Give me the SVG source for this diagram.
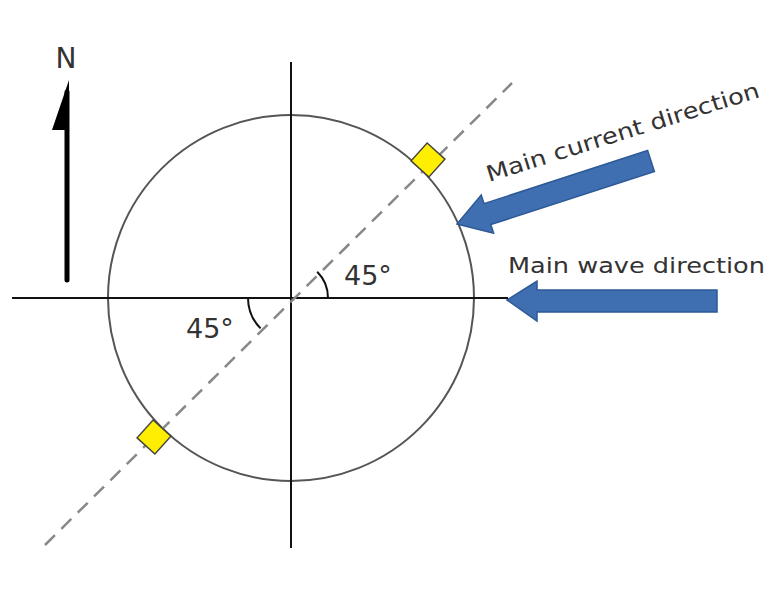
<svg xmlns="http://www.w3.org/2000/svg" width="771" height="598" viewBox="0 0 771 598">
<style>
.ax{stroke:#111;stroke-width:2;fill:none}
.lbl{font-family:"DejaVu Sans","Open Sans",sans-serif;fill:#333}
.blue{fill:#3f6fb0;stroke:#2d5a96;stroke-width:1.5}
.sq{fill:#ffee00;stroke:#444;stroke-width:1.5}
</style>
<rect width="771" height="598" fill="#fff"/>
<g id="circle"><circle cx="291" cy="298" r="183" fill="none" stroke="#555" stroke-width="2"/></g>
<g id="connectors">
<line class="ax" x1="291" y1="62" x2="291" y2="548"/>
<line class="ax" x1="12" y1="298" x2="508" y2="298"/>
<line x1="45" y1="545" x2="512" y2="83" stroke="#888" stroke-width="2.5" stroke-dasharray="14,9"/>
<path class="ax" d="M328 298 A37 37 0 0 0 317.2 271.8" stroke-width="1.8"/>
<path class="ax" d="M248 298 A43 43 0 0 0 260.6 328.4" stroke-width="1.8"/>
</g>
<g id="north">
<line x1="67" y1="280" x2="67" y2="92" stroke="#000" stroke-width="5" stroke-linecap="round"/>
<polygon points="69,80 69,130 52,130" fill="#000"/>
<text class="lbl" x="66" y="68" font-size="28" text-anchor="middle">N</text>
</g>
<g id="sensor1"><rect class="sq" x="-12" y="-12" width="24" height="24" transform="translate(428,160) rotate(42)"/></g>
<g id="sensor2"><rect class="sq" x="-12" y="-12" width="24" height="24" transform="translate(154,437) rotate(42)"/></g>
<g id="angle1"><text class="lbl" x="344" y="285" font-size="27">45°</text></g>
<g id="angle2"><text class="lbl" x="186" y="338" font-size="27">45°</text></g>
<g id="current">
<path class="blue" transform="translate(457,224) rotate(-18)" d="M0 0 L32 -20 L32 -11 L204 -11 L204 11 L32 11 L32 20 Z"/>
<text class="lbl" font-size="22" textLength="285" lengthAdjust="spacingAndGlyphs" transform="translate(489,182) rotate(-17.4)">Main current direction</text>
</g>
<g id="wave">
<path class="blue" d="M507 300 L537 281 L537 290 L717 290 L717 312 L537 312 L537 321 Z"/>
<text class="lbl" x="508" y="273" font-size="22" textLength="257" lengthAdjust="spacingAndGlyphs">Main wave direction</text>
</g>
</svg>
